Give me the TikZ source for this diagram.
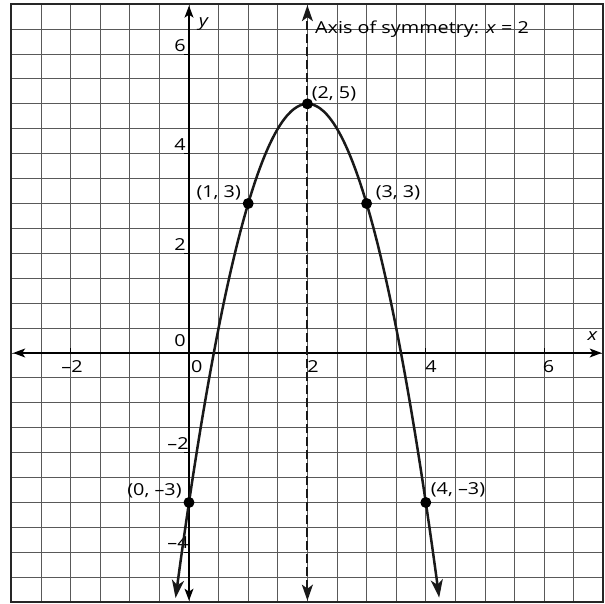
\documentclass[tikz,border=0pt]{standalone}
\usepackage{fontspec}
\setmainfont{Open Sans}
\usetikzlibrary{arrows.meta}
\newcommand{\sx}[1]{\scalebox{1.2}[1]{#1}}
\begin{document}
\begin{tikzpicture}[x=59.2pt,y=49.83pt,
  gridline/.style={draw=black!65,line width=0.9pt},
  frame/.style={draw=black!85,line width=2pt},
  axisline/.style={draw=black,line width=1.2pt,{Stealth[length=12pt,width=9pt,inset=3pt]}-{Stealth[length=12pt,width=9pt,inset=3pt]}},
  tickmark/.style={draw=black,line width=1pt},
  lbl/.style={font=\fontsize{16.5}{19}\selectfont,inner sep=0pt,anchor=center},
  dot/.style={circle,fill=black,inner sep=0pt,minimum size=11pt},
  curve/.style={draw=black!90,line width=2.5pt,{Stealth[length=18pt,width=12pt,inset=5pt]}-{Stealth[length=18pt,width=12pt,inset=5pt]}},
  symaxis/.style={draw=black!90,line width=2pt,dash pattern=on 9pt off 4pt,{Stealth[length=16pt,width=11pt,inset=4pt]}-{Stealth[length=16pt,width=11pt,inset=4pt]}}
]
\useasboundingbox (-3.1926,-5.0171) rectangle (7.0270,7.0841);
% grid
\draw[gridline] (-3,-5) grid[xstep=0.5,ystep=0.5] (7,7);
% axes
\coordinate (xl) at (-2.97,0);
\coordinate (xr) at (6.97,0);
\coordinate (yb) at (0,-4.97);
\coordinate (yt) at (0,6.97);
\draw[axisline] (xl) -- (xr);
\draw[axisline] (yb) -- (yt);
% ticks
\foreach \t in {-2,2,4,6} \draw[tickmark] (\t,0) -- ++(0,4.5pt);
\foreach \t in {-4,-2,2,4,6} \draw[tickmark] ([xshift=1pt]0,\t) -- ++(-6pt,0);
% tick labels
\node[lbl] (xm2) at (-1.976,-0.281) {\sx{–2}};
\node[lbl] (x0) at (0.130,-0.281) {\sx{0}};
\node[lbl] (y0) at (-0.152,0.241) {\sx{0}};
\node[lbl] (x2) at (2.095,-0.281) {\sx{2}};
\node[lbl] (x4) at (4.088,-0.281) {\sx{4}};
\node[lbl] (x6) at (6.073,-0.281) {\sx{6}};
\node[lbl] (y6) at (-0.152,6.167) {\sx{6}};
\node[lbl] (y4) at (-0.152,4.174) {\sx{4}};
\node[lbl] (y2) at (-0.152,2.167) {\sx{2}};
\node[lbl] (ym2) at (-0.186,-1.826) {\sx{–2}};
\node[lbl] (ym4) at (-0.186,-3.813) {\sx{–4}};
\node[lbl] (ylab) at (0.253,6.602) {\sx{\textit{y}}};
\node[lbl] (xlab) at (6.816,0.341) {\sx{\textit{x}}};
% axis of symmetry
\coordinate (sb) at (2,-4.97);
\coordinate (st) at (2,6.98);
\draw[symaxis] (sb) -- (st);
\node[lbl,anchor=west] (axtext) at (2.128,6.502) {\sx{Axis of symmetry: \textit{x} = 2}};
% parabola
\draw[curve] plot[domain=-0.227:4.227,samples=90,smooth] (\x,{-2*(\x-2)*(\x-2)+5});
% points
\node[dot] (p25) at (2,5) {};
\node[dot] (p13) at (1,3) {};
\node[dot] (p33) at (3,3) {};
\node[dot] (p0m3) at (0,-3) {};
\node[dot] (p4m3) at (4,-3) {};
\node[lbl] (l25) at (2.449,5.198) {\sx{(2, 5)}};
\node[lbl] (l13) at (0.502,3.211) {\sx{(1, 3)}};
\node[lbl] (l33) at (3.530,3.211) {\sx{(3, 3)}};
\node[lbl] (l0m3) at (-0.583,-2.759) {\sx{(0, –3)}};
\node[lbl] (l4m3) at (4.544,-2.749) {\sx{(4, –3)}};
% frame
\draw[frame] (-3,-5) rectangle (7,7);
\end{tikzpicture}
\end{document}
